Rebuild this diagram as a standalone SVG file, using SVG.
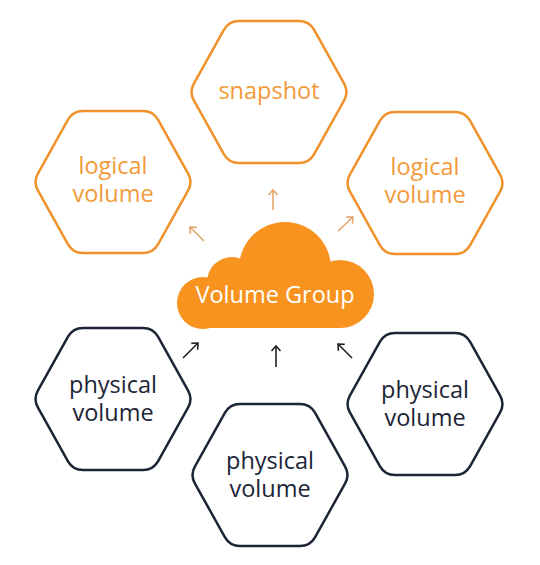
<svg xmlns="http://www.w3.org/2000/svg" width="540" height="565" viewBox="0 0 540 565">
  <style>
    .hex-o { fill: #ffffff; stroke: #F0922B; stroke-width: 2.5; }
    .hex-d { fill: #ffffff; stroke: #1B2536; stroke-width: 2.5; }
    .t-o { font-family: "Open Sans", "Noto Sans", sans-serif; font-size: 23.5px; fill: #F29A3A; text-anchor: middle; }
    .t-d { font-family: "Open Sans", "Noto Sans", sans-serif; font-size: 23.5px; fill: #1B2536; text-anchor: middle; }
    .t-w { font-family: "Open Sans", "Noto Sans", sans-serif; font-size: 23.5px; fill: #ffffff; text-anchor: middle; }
    .a-o { stroke: #E2A66C; stroke-width: 1.6; fill: none; marker-end: url(#head-o); }
    .a-d { stroke: #222222; stroke-width: 1.6; fill: none; marker-end: url(#head-d); }
  </style>
  <defs>
    <path id="hex" d="M -30 -71 L 30 -71 Q 40 -71 45 -62.3 L 75 -8.7 Q 80 0 75 8.7 L 45 62.3 Q 40 71 30 71 L -30 71 Q -40 71 -45 62.3 L -75 8.7 Q -80 0 -75 -8.7 L -45 -62.3 Q -40 -71 -30 -71 Z"/>
    <marker id="head-o" viewBox="-7 -6 9 12" refX="0" refY="0" markerUnits="userSpaceOnUse" markerWidth="9" markerHeight="12" orient="auto">
      <path d="M -5 -4.5 L 0 0 L -5 4.5" fill="none" stroke="#E2A66C" stroke-width="1.6"/>
    </marker>
    <marker id="head-d" viewBox="-7 -6 9 12" refX="0" refY="0" markerUnits="userSpaceOnUse" markerWidth="9" markerHeight="12" orient="auto">
      <path d="M -5 -4.5 L 0 0 L -5 4.5" fill="none" stroke="#222222" stroke-width="1.6"/>
    </marker>
  </defs>

  <g id="connectors">
    <line class="a-o" x1="273" y1="210" x2="273" y2="190"/>
    <line class="a-o" x1="204" y1="241" x2="190" y2="227"/>
    <line class="a-o" x1="338" y1="231" x2="353" y2="217"/>
    <line class="a-d" x1="183" y1="358" x2="198" y2="343"/>
    <line class="a-d" x1="276" y1="367" x2="276" y2="346"/>
    <line class="a-d" x1="352" y1="358" x2="338" y2="344"/>
  </g>

  <g id="snapshot">
    <use href="#hex" class="hex-o" transform="translate(269 92)"/>
    <text class="t-o" x="269" y="99">snapshot</text>
  </g>

  <g id="logical-volume-left">
    <use href="#hex" class="hex-o" transform="translate(113 182)"/>
    <text class="t-o" x="113" y="174">logical</text>
    <text class="t-o" x="113" y="202">volume</text>
  </g>

  <g id="logical-volume-right">
    <use href="#hex" class="hex-o" transform="translate(425 183)"/>
    <text class="t-o" x="425" y="175">logical</text>
    <text class="t-o" x="425" y="203">volume</text>
  </g>

  <g id="volume-group">
    <g fill="#F7931E">
      <circle cx="203" cy="303" r="26"/>
      <circle cx="232" cy="282" r="25"/>
      <circle cx="285" cy="268" r="46"/>
      <circle cx="340" cy="294" r="34"/>
      <rect x="203" y="285" width="137" height="43"/>
    </g>
    <text class="t-w" x="275" y="303">Volume Group</text>
  </g>

  <g id="physical-volume-left">
    <use href="#hex" class="hex-d" transform="translate(113 399)"/>
    <text class="t-d" x="113" y="393">physical</text>
    <text class="t-d" x="113" y="421">volume</text>
  </g>

  <g id="physical-volume-bottom">
    <use href="#hex" class="hex-d" transform="translate(270 475)"/>
    <text class="t-d" x="270" y="469">physical</text>
    <text class="t-d" x="270" y="497">volume</text>
  </g>

  <g id="physical-volume-right">
    <use href="#hex" class="hex-d" transform="translate(425 404)"/>
    <text class="t-d" x="425" y="398">physical</text>
    <text class="t-d" x="425" y="426">volume</text>
  </g>
</svg>
